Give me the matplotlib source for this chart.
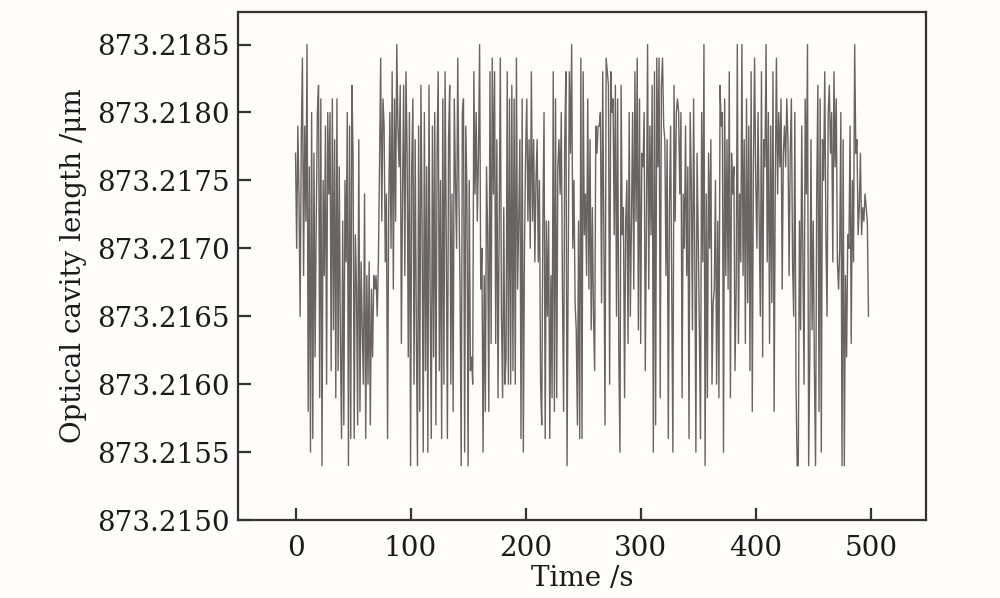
import numpy as np
import matplotlib
matplotlib.use("Agg")
import matplotlib.pyplot as plt

# Optical cavity length readings, in units of 0.1 nm above 873.2150 um, one per second
base_um = 873.2150
step_um = 0.0001
levels = [
    27, 20, 29, 24, 15, 28, 34, 18, 29, 22,
    35, 8, 26, 5, 30, 6, 27, 12, 22, 30,
    32, 9, 31, 4, 25, 18, 29, 10, 30, 24,
    30, 11, 31, 14, 28, 9, 31, 11, 26, 13,
    6, 22, 7, 25, 19, 30, 4, 29, 6, 32,
    27, 6, 21, 17, 7, 28, 8, 19, 14, 10,
    24, 6, 18, 10, 19, 7, 17, 12, 18, 17,
    18, 15, 19, 26, 34, 22, 31, 29, 19, 24,
    6, 23, 30, 20, 33, 17, 31, 22, 35, 29,
    26, 32, 13, 24, 32, 18, 33, 27, 12, 30,
    4, 26, 31, 10, 28, 14, 4, 29, 8, 32,
    22, 5, 30, 11, 26, 5, 32, 17, 6, 29,
    12, 30, 7, 27, 33, 11, 25, 6, 31, 10,
    33, 21, 6, 28, 32, 10, 24, 8, 31, 25,
    20, 34, 24, 17, 4, 30, 31, 5, 29, 24,
    4, 25, 11, 12, 10, 33, 24, 30, 22, 27,
    35, 17, 20, 5, 18, 8, 26, 21, 8, 33,
    13, 34, 24, 33, 13, 28, 9, 22, 34, 15,
    9, 23, 10, 12, 33, 10, 31, 10, 32, 11,
    31, 10, 34, 17, 22, 28, 6, 31, 5, 20,
    27, 31, 22, 28, 20, 33, 22, 28, 19, 25,
    28, 19, 25, 10, 7, 22, 30, 6, 22, 15,
    22, 6, 18, 9, 33, 8, 31, 9, 26, 28,
    24, 30, 17, 8, 28, 33, 4, 19, 33, 27,
    35, 20, 25, 16, 14, 7, 22, 6, 34, 6,
    33, 21, 24, 18, 31, 17, 28, 14, 23, 15,
    11, 29, 27, 29, 29, 30, 16, 33, 21, 7,
    34, 33, 32, 10, 33, 30, 31, 21, 32, 15,
    31, 12, 5, 32, 21, 23, 9, 22, 25, 13,
    30, 15, 22, 30, 17, 33, 22, 34, 14, 31,
    13, 27, 26, 30, 11, 22, 35, 17, 29, 21,
    32, 5, 33, 7, 34, 26, 34, 9, 32, 34,
    29, 28, 18, 28, 6, 23, 29, 17, 5, 32,
    22, 30, 31, 30, 24, 30, 9, 24, 20, 29,
    18, 26, 6, 30, 25, 14, 31, 20, 5, 27,
    21, 14, 6, 30, 19, 35, 4, 24, 9, 27,
    20, 28, 10, 16, 17, 25, 10, 22, 9, 32,
    29, 30, 5, 31, 18, 28, 17, 33, 9, 27,
    24, 26, 11, 17, 35, 13, 24, 19, 35, 18,
    28, 13, 31, 16, 29, 11, 33, 8, 26, 34,
    25, 20, 30, 22, 15, 33, 12, 28, 26, 35,
    19, 30, 13, 29, 16, 33, 8, 25, 34, 24,
    30, 26, 31, 17, 27, 29, 26, 31, 28, 18,
    27, 31, 19, 15, 30, 10, 4, 4, 22, 14,
    29, 19, 10, 31, 24, 35, 4, 12, 28, 14,
    22, 11, 4, 24, 32, 8, 31, 5, 28, 25,
    33, 21, 15, 30, 32, 27, 30, 19, 33, 26,
    31, 19, 17, 20, 30, 4, 28, 4, 18, 12,
    21, 20, 29, 13, 25, 19, 35, 27, 28, 21,
    23, 27, 21, 23, 22, 24, 23, 22, 15,
]
time_s = np.arange(len(levels))
length_um = base_um + np.array(levels) * step_um

x_ticks = [0, 100, 200, 300, 400, 500]
y_ticks = [873.2150, 873.2155, 873.2160, 873.2165, 873.2170, 873.2175, 873.2180, 873.2185]
y_tick_labels = ["873.2150", "873.2155", "873.2160", "873.2165",
                 "873.2170", "873.2175", "873.2180", "873.2185"]

plt.rcParams['font.family'] = ['DejaVu Serif']
bg = '#fffcfc'
fig = plt.figure(figsize=(10, 5.98), dpi=100, facecolor=bg)
ax = fig.add_axes([0.238, 0.1304, 0.688, 0.8496], facecolor=bg)

ax.plot(time_s, length_um, color='#6a6363', lw=1.0)

ax.set_xlim(-50, 548)
ax.set_ylim(873.2150, 873.21874)
ax.set_xticks(x_ticks)
ax.set_xticklabels([str(v) for v in x_ticks])
ax.set_yticks(y_ticks)
ax.set_yticklabels(y_tick_labels)

for s in ax.spines.values():
    s.set_linewidth(1.6)
    s.set_color('#333333')
ax.tick_params(direction='in', length=9, width=1.6, color='#333333',
               labelsize=20, labelcolor='#1a1a1a', top=False, right=False)
ax.tick_params(axis='y', pad=6)
ax.tick_params(axis='x', pad=11)

ax.set_xlabel('Time /s', fontsize=20, color='#1a1a1a', labelpad=2)
ax.set_ylabel('Optical cavity length /μm', fontsize=20, color='#1a1a1a', labelpad=7)

fig.savefig('out.png', dpi=100, facecolor=bg)
